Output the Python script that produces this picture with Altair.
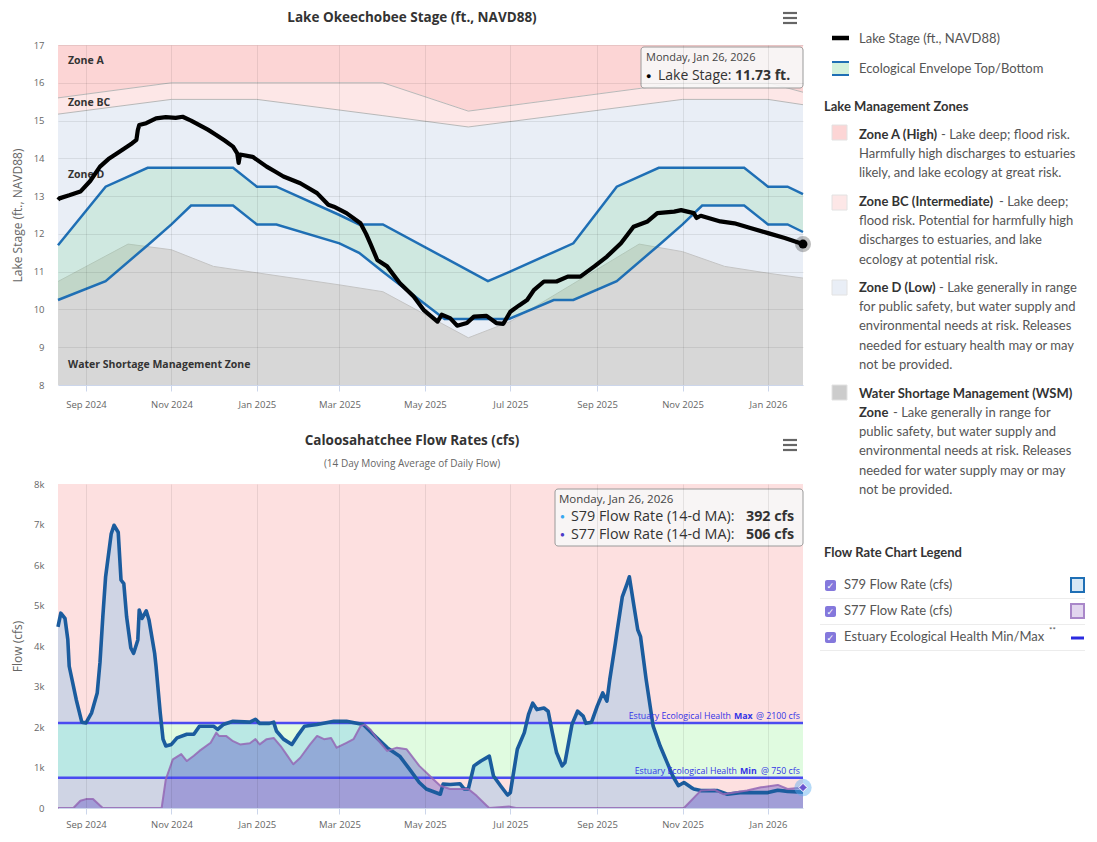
import altair as alt
import pandas as pd

FONT = "Open Sans"
LFONT = "Lato"

# ---------------- Lake Okeechobee stage (ft., NAVD88) ----------------
LAKE_DATES = ["2024-08-12", "2024-08-13", "2024-08-20", "2024-08-28", "2024-09-04", "2024-09-11",
              "2024-09-17", "2024-09-23", "2024-09-30", "2024-10-04", "2024-10-07", "2024-10-08",
              "2024-10-09", "2024-10-14", "2024-10-21", "2024-10-28", "2024-11-04", "2024-11-09",
              "2024-11-15", "2024-11-21", "2024-11-27", "2024-12-03", "2024-12-09", "2024-12-15",
              "2024-12-18", "2024-12-19", "2024-12-20", "2024-12-29", "2025-01-08", "2025-01-14",
              "2025-01-20", "2025-02-01", "2025-02-13", "2025-02-21", "2025-02-25", "2025-03-06",
              "2025-03-16", "2025-03-20", "2025-03-23", "2025-03-28", "2025-04-04", "2025-04-13",
              "2025-04-23", "2025-04-30", "2025-05-10", "2025-05-13", "2025-05-19", "2025-05-24",
              "2025-05-31", "2025-06-05", "2025-06-14", "2025-06-21", "2025-06-26", "2025-07-01",
              "2025-07-07", "2025-07-13", "2025-07-18", "2025-07-25", "2025-08-03", "2025-08-11",
              "2025-08-20", "2025-08-30", "2025-09-08", "2025-09-18", "2025-09-27", "2025-10-07",
              "2025-10-14", "2025-10-26", "2025-10-31", "2025-11-09", "2025-11-11", "2025-11-14",
              "2025-11-28", "2025-12-08", "2025-12-20", "2026-01-01", "2026-01-13", "2026-01-22",
              "2026-01-26"]
LAKE_STAGE = [12.90, 12.94, 13.02, 13.12, 13.40, 13.78,
              13.98, 14.13, 14.30, 14.40, 14.49, 14.75,
              14.88, 14.93, 15.06, 15.09, 15.07, 15.10,
              15.00, 14.88, 14.76, 14.62, 14.47, 14.31,
              14.13, 13.88, 14.10, 14.04, 13.78, 13.65,
              13.52, 13.34, 13.08, 12.77, 12.72, 12.55,
              12.28, 12.00, 11.75, 11.31, 11.14, 10.70,
              10.34, 9.99, 9.68, 9.86, 9.77, 9.57,
              9.64, 9.81, 9.83, 9.64, 9.62, 9.94,
              10.10, 10.25, 10.52, 10.74, 10.74, 10.87,
              10.87, 11.14, 11.40, 11.75, 12.19, 12.33,
              12.55, 12.59, 12.63, 12.55, 12.42, 12.48,
              12.33, 12.28, 12.15, 12.02, 11.89, 11.78,
              11.73]

# ---------------- Ecological envelope ----------------
ENV_DATES = ["2024-08-12", "2024-09-15", "2024-10-15", "2024-11-01", "2024-11-15", "2024-12-15",
             "2025-01-01", "2025-01-15", "2025-03-01", "2025-03-15", "2025-04-01", "2025-05-15",
             "2025-06-15", "2025-06-30", "2025-08-01", "2025-08-15", "2025-09-15", "2025-10-15",
             "2025-11-01", "2025-11-15", "2025-12-15", "2026-01-01", "2026-01-15", "2026-01-26"]
ENV_TOP = [11.70, 13.25, 13.75, 13.75, 13.75, 13.75,
           13.25, 13.25, 12.50, 12.25, 12.25, 11.37,
           10.75, 10.99, 11.52, 11.75, 13.25, 13.75,
           13.75, 13.75, 13.75, 13.25, 13.25, 13.05]
ENV_BOTTOM = [10.25, 10.75, 11.70, 12.25, 12.75, 12.75,
              12.25, 12.25, 11.75, 11.50, 11.00, 9.75,
              9.75, 9.75, 10.25, 10.25, 10.75, 11.70,
              12.25, 12.75, 12.75, 12.25, 12.25, 12.05]

# ---------------- Lake management zones ----------------
ZONE_DATES = ["2024-08-12", "2024-11-01", "2025-01-01", "2025-04-01", "2025-06-01",
              "2025-11-01", "2026-01-01", "2026-01-26"]
ZONE_A_FLOOR = [15.60, 16.00, 16.00, 16.00, 15.25, 16.00, 16.00, 15.75]
ZONE_BC_FLOOR = [15.17, 15.56, 15.56, 15.13, 14.83, 15.56, 15.56, 15.42]
WSM_DATES = ["2024-08-12", "2024-10-01", "2024-11-01", "2024-12-01", "2025-01-01", "2025-03-01",
             "2025-04-01", "2025-06-01", "2025-07-01", "2025-10-01", "2025-11-01", "2025-12-01",
             "2026-01-01", "2026-01-26"]
WSM_TOP = [10.74, 11.73, 11.58, 11.14, 10.97, 10.65,
           10.47, 9.25, 9.68, 11.73, 11.53, 11.14,
           10.96, 10.83]
ZONE_LABELS = ["Zone A", "Zone BC", "Zone D", "Water Shortage Management Zone"]
STAGE_TICKS = [8, 9, 10, 11, 12, 13, 14, 15, 16, 17]

# ---------------- Caloosahatchee flows (cfs, 14-day MA) ----------------
S79_DATES = ["2024-08-12", "2024-08-14", "2024-08-17", "2024-08-19", "2024-08-20", "2024-08-25",
             "2024-08-29", "2024-09-01", "2024-09-05", "2024-09-09", "2024-09-11", "2024-09-13",
             "2024-09-15", "2024-09-19", "2024-09-21", "2024-09-24", "2024-09-26", "2024-09-28",
             "2024-09-30", "2024-10-03", "2024-10-05", "2024-10-08", "2024-10-09", "2024-10-11",
             "2024-10-14", "2024-10-16", "2024-10-20", "2024-10-21", "2024-10-24", "2024-10-26",
             "2024-10-28", "2024-11-01", "2024-11-05", "2024-11-12", "2024-11-17", "2024-11-21",
             "2024-12-01", "2024-12-04", "2024-12-08", "2024-12-15", "2024-12-27", "2024-12-31",
             "2025-01-03", "2025-01-10", "2025-01-13", "2025-01-15", "2025-01-20", "2025-01-26",
             "2025-01-30", "2025-02-04", "2025-02-13", "2025-02-25", "2025-03-06", "2025-03-18",
             "2025-03-25", "2025-04-04", "2025-04-13", "2025-04-20", "2025-04-27", "2025-05-02",
             "2025-05-12", "2025-05-14", "2025-05-19", "2025-05-26", "2025-05-29", "2025-06-01",
             "2025-06-05", "2025-06-10", "2025-06-16", "2025-06-19", "2025-06-24", "2025-06-29",
             "2025-07-01", "2025-07-06", "2025-07-11", "2025-07-14", "2025-07-17", "2025-07-20",
             "2025-07-25", "2025-07-28", "2025-07-31", "2025-08-03", "2025-08-07", "2025-08-09",
             "2025-08-14", "2025-08-18", "2025-08-22", "2025-08-24", "2025-08-28", "2025-09-01",
             "2025-09-05", "2025-09-08", "2025-09-10", "2025-09-14", "2025-09-15", "2025-09-19",
             "2025-09-22", "2025-09-24", "2025-09-27", "2025-09-30", "2025-10-02", "2025-10-06",
             "2025-10-11", "2025-10-16", "2025-10-21", "2025-10-25", "2025-10-29", "2025-11-02",
             "2025-11-07", "2025-11-09", "2025-11-14", "2025-11-26", "2025-12-03", "2025-12-12",
             "2025-12-22", "2026-01-01", "2026-01-08", "2026-01-15", "2026-01-26"]
S79_FLOW = [4470, 4810, 4680, 4160, 3500, 2680,
            2120, 2100, 2350, 2840, 3600, 4720,
            5710, 6770, 6980, 6810, 5630, 5540,
            4720, 3950, 3820, 4150, 4890, 4680,
            4870, 4640, 3820, 3500, 2350, 1700,
            1530, 1570, 1730, 1820, 1820, 2020,
            2020, 1940, 2060, 2140, 2120, 2190,
            2090, 2090, 2120, 1900, 1700, 1570,
            1780, 2020, 2060, 2140, 2140, 2060,
            1820, 1490, 1280, 960, 630, 470,
            340, 590, 580, 600, 470, 470,
            1040, 1160, 1280, 790, 550, 320,
            380, 1450, 1860, 2310, 2590, 2430,
            2470, 2390, 1860, 1370, 1040, 1120,
            2060, 2390, 2270, 2090, 2120, 2510,
            2840, 2640, 3170, 4070, 4310, 5220,
            5500, 5710, 5050, 4400, 4230, 3170,
            2020, 1530, 1120, 790, 550, 630,
            510, 470, 430, 430, 340, 380,
            380, 380, 440, 410, 392]
S77_DATES = ["2024-08-12", "2024-08-23", "2024-08-28", "2024-09-01", "2024-09-06", "2024-09-11",
             "2024-09-13", "2024-10-25", "2024-10-28", "2024-11-02", "2024-11-08", "2024-11-12",
             "2024-11-17", "2024-11-21", "2024-11-29", "2024-12-03", "2024-12-05", "2024-12-10",
             "2024-12-15", "2024-12-20", "2024-12-27", "2024-12-31", "2025-01-03", "2025-01-08",
             "2025-01-13", "2025-01-18", "2025-01-23", "2025-01-27", "2025-02-01", "2025-02-08",
             "2025-02-13", "2025-02-18", "2025-02-23", "2025-02-27", "2025-03-06", "2025-03-11",
             "2025-03-16", "2025-03-19", "2025-03-23", "2025-03-28", "2025-04-04", "2025-04-11",
             "2025-04-18", "2025-04-27", "2025-05-07", "2025-05-12", "2025-05-19", "2025-06-01",
             "2025-06-07", "2025-06-14", "2025-06-16", "2025-06-30", "2025-07-05", "2025-11-02",
             "2025-11-14", "2025-11-24", "2025-11-30", "2025-12-08", "2025-12-17", "2025-12-27",
             "2026-01-08", "2026-01-15", "2026-01-26"]
S77_FLOW = [0, 0, 180, 220, 220, 60,
            0, 0, 710, 1200, 1330, 1160,
            1290, 1410, 1610, 1860, 1780, 1780,
            1650, 1570, 1600, 1700, 1570, 1700,
            1730, 1530, 1280, 1080, 1240, 1570,
            1780, 1700, 1730, 1490, 1610, 1700,
            2020, 2060, 1940, 1700, 1410, 1490,
            1450, 1040, 710, 550, 470, 470,
            300, 60, 0, 40, 0, 0,
            430, 450, 340, 380, 430, 510,
            570, 470, 506]
ECO_MAX = 2100
ECO_MIN = 750
FLOW_TICKS = [0, 1000, 2000, 3000, 4000, 5000, 6000, 7000, 8000]

# ---------------- titles & legend texts ----------------
TOP_TITLE = "Lake Okeechobee Stage (ft., NAVD88)"
BOTTOM_TITLE = "Caloosahatchee Flow Rates (cfs)"
BOTTOM_SUBTITLE = "(14 Day Moving Average of Daily Flow)"
LAKE_LEGEND = ["Lake Stage (ft., NAVD88)", "Ecological Envelope Top/Bottom"]
ZONE_HEADER = "Lake Management Zones"
ZONE_NAMES = ["Zone A (High)", "Zone BC (Intermediate)", "Zone D (Low)",
              "Water Shortage Management (WSM)"]
ZONE_A_TEXT = ["- Lake deep; flood risk.", "Harmfully high discharges to estuaries",
               "likely, and lake ecology at great risk."]
ZONE_BC_TEXT = ["- Lake deep;", "flood risk. Potential for harmfully high",
                "discharges to estuaries, and lake", "ecology at potential risk."]
ZONE_D_TEXT = ["- Lake generally in range", "for public safety, but water supply and",
               "environmental needs at risk. Releases", "needed for estuary health may or may",
               "not be provided."]
ZONE_WSM_TEXT = ["- Lake generally in range for", "public safety, but water supply and",
                 "environmental needs at risk. Releases", "needed for water supply may or may",
                 "not be provided."]
FLOW_HEADER = "Flow Rate Chart Legend"
FLOW_LEGEND = ["S79 Flow Rate (cfs)", "S77 Flow Rate (cfs)", "Estuary Ecological Health Min/Max"]

# ---------------- colours ----------------
C_A = "#fcd5d5"
C_BC = "#fde7e7"
C_D = "#e9eef6"
C_WSM = "#d7d7d7"
C_ENV = "#7ed69a"
C_ENV_LINE = "#1f6fb5"
C_FLOW_BG = "#fde0e0"
C_FLOW_OK = "#e0fbe0"
C_S79_FILL = "#49b0f0"
C_S79_LINE = "#1b5c9e"
C_S77_FILL = "#4a3ac0"
C_S77_LINE = "#9467b5"
C_ECO = "#4b4bf0"

# ---------------- frames ----------------
lake = pd.DataFrame({"date": pd.to_datetime(LAKE_DATES), "stage": LAKE_STAGE})
env = pd.DataFrame({"date": pd.to_datetime(ENV_DATES), "top": ENV_TOP, "bot": ENV_BOTTOM})
zones = pd.DataFrame({"date": pd.to_datetime(ZONE_DATES), "abc": ZONE_A_FLOOR, "bcd": ZONE_BC_FLOOR})
wsm = pd.DataFrame({"date": pd.to_datetime(WSM_DATES), "wsm": WSM_TOP})
s79 = pd.DataFrame({"date": pd.to_datetime(S79_DATES), "flow": S79_FLOW})
s77 = pd.DataFrame({"date": pd.to_datetime(S77_DATES), "flow": S77_FLOW})
lake_last = lake.tail(1)
s77_last = s77.tail(1)
one = pd.DataFrame({"k": [0]})

W, H1, H2 = 745, 340, 324

x_scale = alt.Scale(domain=[alt.DateTime(year=2024, month=8, date=12),
                            alt.DateTime(year=2026, month=1, date=26)], nice=False)


def x_axis(pad):
    return alt.Axis(title=None, format="%b %Y", tickCount={"interval": "month", "step": 2},
                    labelFont=FONT, labelFontSize=9.5, labelColor="#666666",
                    tickColor="#ccd6eb", tickSize=6, domainColor="#ccd6eb", labelPadding=pad,
                    gridColor="#000000", gridOpacity=0.08, zindex=1)


def y_axis(title, values, label_expr=None):
    kw = dict(title=title, values=values, titleFont=FONT, titleFontSize=12,
              titleFontWeight="normal", titleColor="#666666", labelFont=FONT,
              labelFontSize=9.5, labelColor="#666666", ticks=False, domain=False,
              labelPadding=14, minExtent=28, maxExtent=28, titlePadding=6,
              labelFlush=False, gridColor="#000000", gridOpacity=0.08, zindex=1)
    if label_expr:
        kw["labelExpr"] = label_expr
    return alt.Axis(**kw)


x1_axis = x_axis(8)
x2_axis = x_axis(5)
y1_scale = alt.Scale(domain=[8, 17], nice=False, zero=False)
y1_axis = y_axis("Lake Stage (ft., NAVD88)", STAGE_TICKS)
y2_scale = alt.Scale(domain=[0, 8000], nice=False)
y2_axis = y_axis("Flow (cfs)", FLOW_TICKS,
                 "datum.value == 0 ? '0' : (datum.value / 1000) + 'k'")


def X1():
    return alt.X("date:T", scale=x_scale, axis=x1_axis)


def X2():
    return alt.X("date:T", scale=x_scale, axis=x2_axis)


def Y1(f):
    return alt.Y(f + ":Q", scale=y1_scale, axis=y1_axis)


def Y2(f):
    return alt.Y(f + ":Q", scale=y2_scale, axis=y2_axis)


def ptext(x, y, text, **kw):
    base = dict(align="left", baseline="middle", font=FONT, fontSize=12, color="#333333")
    base.update(kw)
    return alt.Chart(one).mark_text(**base).encode(
        x=alt.value(x), y=alt.value(y), text=alt.value(text))


def prect(x1, y1, x2, y2, **kw):
    return alt.Chart(one).mark_rect(**kw).encode(
        x=alt.value(x1), x2=alt.value(x2), y=alt.value(y1), y2=alt.value(y2))


def prule(x1, x2, y, color, sw):
    return alt.Chart(one).mark_rule(color=color, strokeWidth=sw).encode(
        x=alt.value(x1), x2=alt.value(x2), y=alt.value(y))


def hamburger(y0):
    return [prule(725, 739, y0 + d, "#666666", 2.2) for d in (-5, 0, 5)]


# ====================== top chart ======================
top_layers = [
    alt.Chart(zones).mark_area(color=C_A).encode(x=X1(), y=Y1("abc"), y2=alt.datum(17)),
    alt.Chart(zones).mark_area(color=C_BC).encode(x=X1(), y=Y1("bcd"), y2=alt.Y2("abc")),
    alt.Chart(zones).mark_area(color=C_D).encode(x=X1(), y=Y1("bcd"), y2=alt.datum(8)),
    alt.Chart(wsm).mark_area(color=C_WSM).encode(x=X1(), y=Y1("wsm"), y2=alt.datum(8)),
    alt.Chart(zones).mark_line(color="#b8b8b8", strokeWidth=1).encode(x=X1(), y=Y1("abc")),
    alt.Chart(zones).mark_line(color="#b8b8b8", strokeWidth=1).encode(x=X1(), y=Y1("bcd")),
    alt.Chart(wsm).mark_line(color="#c4c4c4", strokeWidth=1).encode(x=X1(), y=Y1("wsm")),
    alt.Chart(env).mark_area(color=C_ENV, opacity=0.24).encode(x=X1(), y=Y1("bot"), y2=alt.Y2("top")),
    alt.Chart(env).mark_line(color=C_ENV_LINE, strokeWidth=2.5).encode(x=X1(), y=Y1("top")),
    alt.Chart(env).mark_line(color=C_ENV_LINE, strokeWidth=2.5).encode(x=X1(), y=Y1("bot")),
    ptext(10, 16, ZONE_LABELS[0], fontWeight="bold", fontSize=10.5),
    ptext(10, 58, ZONE_LABELS[1], fontWeight="bold", fontSize=10.5),
    ptext(10, 130, ZONE_LABELS[2], fontWeight="bold", fontSize=10.5),
    ptext(10, 320, ZONE_LABELS[3], fontWeight="bold", fontSize=10.5),
    alt.Chart(lake).mark_line(color="#000000", strokeWidth=4.2, strokeJoin="round").encode(
        x=X1(), y=Y1("stage")),
    alt.Chart(lake_last).mark_point(filled=True, color="#000000", opacity=0.25, size=260).encode(
        x=X1(), y=Y1("stage")),
    alt.Chart(lake_last).mark_point(filled=True, color="#000000", opacity=1, size=80).encode(
        x=X1(), y=Y1("stage")),
    prect(583, 2, 745, 43, fill="#f7f7f7", fillOpacity=0.9, stroke="#9a9a9a",
          strokeWidth=1, cornerRadius=3),
    ptext(588, 13, "Monday, Jan 26, 2026", fontSize=11, color="#444444"),
    ptext(588, 31, "\u25cf", fontSize=9, color="#000000"),
    ptext(600, 31, "Lake Stage:", fontSize=14, color="#333333"),
    ptext(677, 31, f"{LAKE_STAGE[-1]:.2f} ft.", fontSize=14, fontWeight="bold", color="#333333"),
    ptext(354, -27, TOP_TITLE, align="center", fontSize=13.5, fontWeight="bold"),
] + hamburger(-27)

top = alt.layer(*top_layers).properties(width=W, height=H1)

# ====================== bottom chart ======================
ECO_LABEL = "Estuary Ecological Health"
bot_layers = [
    alt.Chart(s79).mark_area(color=C_FLOW_BG).encode(
        x=X2(), y=alt.Y(datum=8000, scale=y2_scale, axis=y2_axis), y2=alt.datum(0)),
    alt.Chart(s79).mark_area(color=C_FLOW_OK).encode(
        x=X2(), y=alt.Y(datum=ECO_MAX, scale=y2_scale, axis=y2_axis), y2=alt.datum(ECO_MIN)),
    alt.Chart(s79).mark_area(color=C_S79_FILL, opacity=0.25).encode(x=X2(), y=Y2("flow"), y2=alt.datum(0)),
    alt.Chart(s77).mark_area(color=C_S77_FILL, opacity=0.35).encode(x=X2(), y=Y2("flow"), y2=alt.datum(0)),
    alt.Chart(one).mark_rule(color=C_ECO, strokeWidth=2.5).encode(y=alt.datum(ECO_MAX)),
    alt.Chart(one).mark_rule(color=C_ECO, strokeWidth=2.5).encode(y=alt.datum(ECO_MIN)),
    alt.Chart(s79).mark_line(color=C_S79_LINE, strokeWidth=3.6, strokeJoin="round").encode(x=X2(), y=Y2("flow")),
    alt.Chart(s77).mark_line(color=C_S77_LINE, strokeWidth=2, opacity=0.85, strokeJoin="round").encode(x=X2(), y=Y2("flow")),
]
for val, word, xs in ((ECO_MAX, "Max", (673, 676, 742)), (ECO_MIN, "Min", (679, 682, 742))):
    for txt, xx, wt, al in ((ECO_LABEL, xs[0], "normal", "right"), (word, xs[1], "bold", "left"),
                            (f"@ {val} cfs", xs[2], "normal", "right")):
        bot_layers.append(
            alt.Chart(one).mark_text(align=al, baseline="middle", font=FONT, fontSize=8.8,
                                     fontWeight=wt, color="#3434e6", dy=-7).encode(
                x=alt.value(xx), y=alt.datum(val), text=alt.value(txt)))
bot_layers += [
    alt.Chart(s77_last).mark_point(filled=True, color="#5aaef0", opacity=0.45, size=300).encode(
        x=X2(), y=Y2("flow")),
    alt.Chart(s77_last).mark_point(filled=True, shape="diamond", color="#6a56d0", opacity=1,
                                   size=70, stroke="#ffffff", strokeWidth=1).encode(
        x=X2(), y=Y2("flow")),
    prect(497, 5, 745, 62, fill="#f7f7f7", fillOpacity=0.9, stroke="#9a9a9a",
          strokeWidth=1, cornerRadius=3),
    ptext(501, 16, "Monday, Jan 26, 2026", fontSize=11.5, color="#444444"),
    ptext(502, 33, "\u25cf", fontSize=8, color="#37a8f0"),
    ptext(513, 33, "S79 Flow Rate (14-d MA):", fontSize=14.3, color="#333333"),
    ptext(688, 33, f"{S79_FLOW[-1]} cfs", fontSize=14.3, fontWeight="bold", color="#333333"),
    ptext(502, 51, "\u25cf", fontSize=8, color="#4b3cc8"),
    ptext(513, 51, "S77 Flow Rate (14-d MA):", fontSize=14.3, color="#333333"),
    ptext(688, 51, f"{S77_FLOW[-1]} cfs", fontSize=14.3, fontWeight="bold", color="#333333"),
    ptext(354, -43, BOTTOM_TITLE, align="center", fontSize=13.5, fontWeight="bold"),
    ptext(354, -20, BOTTOM_SUBTITLE, align="center", fontSize=10, color="#666666"),
] + hamburger(-39)

bottom = alt.layer(*bot_layers).properties(width=W, height=H2)

# ====================== legend panel ======================
OX, OY = 819, 45


def L(x, y):
    return x - OX, y - OY


def ltext(x, y, text, bold=False, size=13, color=None, font=LFONT):
    px, py = L(x, y)
    return ptext(px, py, text, font=font, fontSize=size,
                 fontWeight="bold" if bold else "normal",
                 color=color or ("#333333" if bold else "#555555"))


def lrect(x1, y1, x2, y2, **kw):
    a, b = L(x1, y1)
    c, d = L(x2, y2)
    return prect(a, b, c, d, **kw)


def lrule(x1, x2, y, color, sw):
    a, b = L(x1, y)
    c, _ = L(x2, y)
    return prule(a, c, b, color, sw)


leg = [
    lrule(835, 852, 38, "#000000", 4.5),
    ltext(862, 38.5, LAKE_LEGEND[0]),
    lrect(835, 62, 852, 75, fill="#d3f1dc"),
    lrule(835, 852, 62, C_ENV_LINE, 2),
    lrule(835, 852, 75, C_ENV_LINE, 2),
    ltext(862, 68.5, LAKE_LEGEND[1]),
    ltext(827, 106.5, ZONE_HEADER, bold=True),
]
zone_specs = [
    (C_A, 125, ZONE_NAMES[0], 944, ZONE_A_TEXT, 135),
    (C_BC, 195, ZONE_NAMES[1], 1002, ZONE_BC_TEXT, 202),
    (C_D, 280, ZONE_NAMES[2], 942, ZONE_D_TEXT, 288),
]
for col, sq, name, nx, lines, y0 in zone_specs:
    leg.append(lrect(835, sq, 850, sq + 15, fill=col, stroke="#e2e2e2", strokeWidth=1))
    leg.append(ltext(862, y0, name, bold=True))
    leg.append(ltext(nx, y0, lines[0]))
    for i, ln in enumerate(lines[1:]):
        leg.append(ltext(862, y0 + 19.2 * (i + 1), ln))
leg.append(lrect(835, 385, 850, 400, fill="#cccccc", stroke="#e2e2e2", strokeWidth=1))
leg.append(ltext(862, 394, ZONE_NAMES[3], bold=True))
leg.append(ltext(862, 413, "Zone", bold=True))
leg.append(ltext(896, 413, ZONE_WSM_TEXT[0]))
for i, ln in enumerate(ZONE_WSM_TEXT[1:]):
    leg.append(ltext(862, 413 + 19.2 * (i + 1), ln))

leg.append(ltext(827, 553, FLOW_HEADER, bold=True))
for i, name in enumerate(FLOW_LEGEND):
    yc = 585 + 26 * i
    leg.append(lrule(823, 1088, yc + 13.5, "#ececec", 1))
    leg.append(lrect(828, yc - 5, 839, yc + 6, fill="#8478dc", cornerRadius=2))
    leg.append(ltext(829.5, yc + 0.5, "\u2713", bold=True, size=9, color="#ffffff",
                     font="DejaVu Sans"))
    leg.append(ltext(847, yc, name, color="#555555"))
leg.append(ltext(1052, 631, "**", size=8, color="#555555"))
leg.append(lrect(1074, 578, 1087, 592, fill="#d8e8f5", stroke=C_ENV_LINE, strokeWidth=2))
leg.append(lrect(1074, 604, 1087, 618, fill="#e2d6ef", stroke="#a987c9", strokeWidth=2))
leg.append(lrule(1074, 1087, 638, "#2a2ae0", 3))

legend = alt.layer(*leg).properties(width=269, height=610)

left = alt.vconcat(top, bottom, spacing=25)
chart = alt.hconcat(left, legend, spacing=4).properties(
    padding={"left": 3, "top": 3, "right": 0, "bottom": 0}
).configure_view(stroke=None)

chart.save("out.html", embed_options={"renderer": "svg", "actions": False})
